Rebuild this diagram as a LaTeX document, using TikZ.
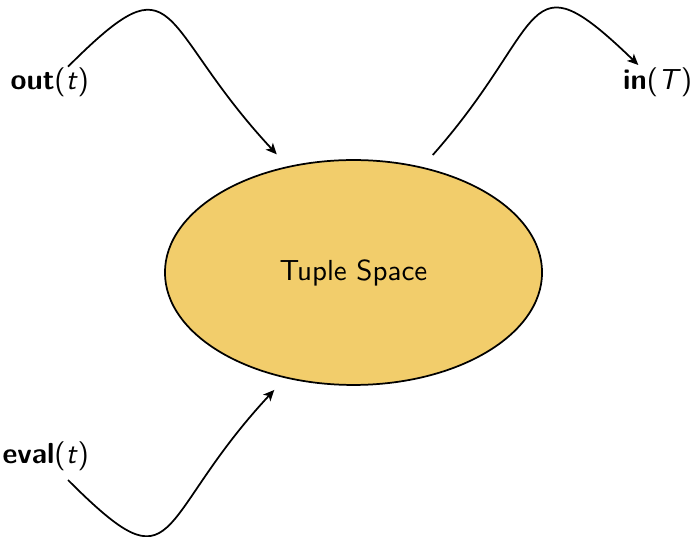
\documentclass[tikz,border=0pt]{standalone}
\usetikzlibrary{shapes.geometric,arrows.meta}
\definecolor{tsfill}{RGB}{242,205,107}
\begin{document}
\begin{tikzpicture}[x=0.345pt,y=-0.345pt,font=\sffamily]
\tikzset{
  tsnode/.style={ellipse,draw,fill=tsfill,line width=0.6pt,
    minimum width=130.1pt,minimum height=77.6pt,outer sep=5.2pt,inner sep=0pt},
  oplabel/.style={inner sep=0pt},
  flow/.style={line width=0.6pt,-{Stealth[length=3.8pt,width=3.4pt,inset=1pt]}}
}
\useasboundingbox (0,0) rectangle (693,537);
\node[tsnode] (ts) at (353.5,272.5) {Tuple Space};
\node[oplabel,anchor=east] (opout) at (89.5,82) {\textbf{out}(\textit{t})};
\node[oplabel,anchor=west] (opin) at (622.5,82) {\textbf{in}(\textit{T})};
\node[oplabel,anchor=east] (opeval) at (89.5,456.3) {\textbf{eval}(\textit{t})};
% out(t) -> tuple space
\draw[flow] ([shift={(-21.5,-15.3)}]opout.east)
  .. controls ([shift={(91.5,-128.3)}]opout.east) and ([shift={(-122,-131)}]ts.123.75)
  .. (ts.123.75);
% tuple space -> in(T)
\draw[flow] (ts.56)
  .. controls ([shift={(116,-131)}]ts.56) and ([shift={(-101.2,-130)}]opin.west)
  .. ([shift={(15.8,-17)}]opin.west);
% eval(t) -> tuple space
\draw[flow] ([shift={(-21.5,23.7)}]opeval.east)
  .. controls ([shift={(91.5,136.7)}]opeval.east) and ([shift={(-122,131)}]ts.236.5)
  .. (ts.236.5);
\end{tikzpicture}
\end{document}
